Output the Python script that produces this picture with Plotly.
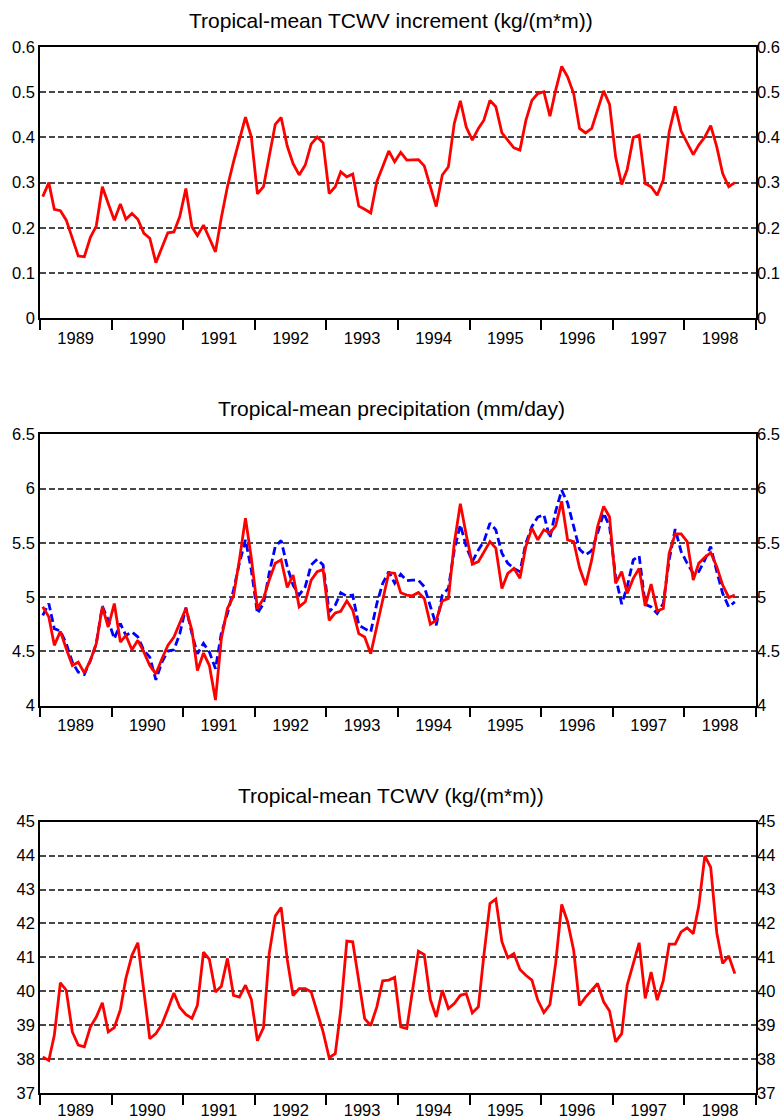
import plotly.graph_objects as go
import pandas as pd

# ---------------- data (monthly, Jan 1989 - Sep 1998) ----------------
start_month = "1989-01-01"
n_months = 117
year_labels = [str(y) for y in range(1989, 1999)]

tcwv_increment = [
    0.269, 0.300, 0.241, 0.238, 0.217, 0.177, 0.138, 0.136, 0.179, 0.204, 0.291, 0.254,
    0.217, 0.253, 0.219, 0.232, 0.219, 0.188, 0.177, 0.123, 0.155, 0.189, 0.191, 0.225,
    0.287, 0.202, 0.183, 0.206, 0.177, 0.147, 0.223, 0.291, 0.346, 0.394, 0.445, 0.401,
    0.275, 0.291, 0.357, 0.429, 0.444, 0.381, 0.342, 0.317, 0.339, 0.385, 0.401, 0.388,
    0.276, 0.291, 0.324, 0.313, 0.319, 0.248, 0.241, 0.233, 0.302, 0.335, 0.370, 0.346,
    0.367, 0.350, 0.350, 0.351, 0.337, 0.291, 0.247, 0.317, 0.335, 0.431, 0.481, 0.423,
    0.394, 0.420, 0.438, 0.482, 0.468, 0.410, 0.394, 0.377, 0.372, 0.437, 0.482, 0.497,
    0.501, 0.447, 0.504, 0.557, 0.534, 0.497, 0.420, 0.410, 0.420, 0.460, 0.503, 0.473,
    0.357, 0.296, 0.329, 0.400, 0.405, 0.298, 0.291, 0.272, 0.306, 0.412, 0.469, 0.414,
    0.388, 0.362, 0.383, 0.401, 0.426, 0.379, 0.320, 0.291, 0.300,
]

precip_red = [
    4.911, 4.818, 4.556, 4.685, 4.525, 4.370, 4.401, 4.302, 4.417, 4.571, 4.911, 4.725,
    4.941, 4.586, 4.648, 4.515, 4.602, 4.494, 4.370, 4.293, 4.432, 4.556, 4.633, 4.756,
    4.895, 4.694, 4.324, 4.485, 4.370, 4.052, 4.620, 4.895, 5.009, 5.343, 5.728, 5.358,
    4.895, 4.988, 5.157, 5.312, 5.343, 5.090, 5.204, 4.911, 4.957, 5.157, 5.235, 5.256,
    4.787, 4.855, 4.870, 4.966, 4.880, 4.664, 4.633, 4.478, 4.725, 4.972, 5.225, 5.219,
    5.040, 5.019, 5.012, 5.043, 4.988, 4.750, 4.787, 4.966, 4.988, 5.497, 5.861, 5.574,
    5.302, 5.327, 5.420, 5.512, 5.451, 5.080, 5.219, 5.265, 5.173, 5.466, 5.636, 5.528,
    5.620, 5.590, 5.657, 5.883, 5.528, 5.512, 5.270, 5.111, 5.343, 5.651, 5.836, 5.738,
    5.127, 5.235, 5.034, 5.173, 5.265, 4.917, 5.120, 4.873, 4.895, 5.404, 5.583, 5.583,
    5.512, 5.157, 5.312, 5.367, 5.410, 5.281, 5.111, 4.997, 5.019,
]

precip_blue = [
    4.833, 4.941, 4.710, 4.688, 4.571, 4.401, 4.309, 4.287, 4.417, 4.571, 4.917, 4.787,
    4.617, 4.756, 4.648, 4.679, 4.633, 4.509, 4.448, 4.238, 4.401, 4.503, 4.515, 4.664,
    4.904, 4.664, 4.478, 4.574, 4.494, 4.340, 4.670, 4.849, 5.065, 5.312, 5.528, 5.250,
    4.849, 4.941, 5.219, 5.466, 5.522, 5.281, 5.111, 5.019, 5.096, 5.296, 5.349, 5.296,
    4.864, 4.926, 5.040, 5.009, 5.019, 4.741, 4.710, 4.679, 4.941, 5.127, 5.235, 5.127,
    5.210, 5.151, 5.157, 5.157, 5.096, 4.911, 4.741, 5.019, 5.080, 5.435, 5.667, 5.466,
    5.327, 5.435, 5.512, 5.682, 5.620, 5.404, 5.312, 5.265, 5.235, 5.497, 5.651, 5.738,
    5.759, 5.543, 5.790, 5.985, 5.867, 5.651, 5.440, 5.389, 5.429, 5.590, 5.775, 5.651,
    5.188, 4.935, 5.096, 5.343, 5.380, 4.935, 4.910, 4.849, 4.941, 5.343, 5.627, 5.420,
    5.312, 5.219, 5.235, 5.343, 5.466, 5.235, 5.034, 4.910, 4.957,
]

tcwv = [
    38.06, 37.96, 38.70, 40.25, 40.03, 38.80, 38.41, 38.36, 38.95, 39.24, 39.66, 38.80,
    38.93, 39.46, 40.38, 41.06, 41.43, 40.03, 38.60, 38.75, 39.03, 39.47, 39.95, 39.52,
    39.32, 39.20, 39.59, 41.15, 40.94, 39.98, 40.15, 40.97, 39.88, 39.83, 40.18, 39.76,
    38.54, 38.93, 41.11, 42.22, 42.47, 40.94, 39.87, 40.08, 40.08, 39.98, 39.41, 38.80,
    38.04, 38.16, 39.44, 41.48, 41.46, 40.23, 39.19, 38.99, 39.54, 40.31, 40.33, 40.41,
    38.95, 38.90, 40.03, 41.18, 41.08, 39.76, 39.24, 40.03, 39.49, 39.64, 39.88, 39.93,
    39.36, 39.54, 41.06, 42.59, 42.72, 41.46, 40.99, 41.11, 40.64, 40.47, 40.33, 39.74,
    39.37, 39.61, 40.82, 42.56, 42.05, 41.21, 39.58, 39.83, 40.03, 40.23, 39.69, 39.42,
    38.51, 38.75, 40.18, 40.82, 41.43, 39.79, 40.57, 39.74, 40.31, 41.39, 41.39, 41.75,
    41.87, 41.70, 42.51, 43.99, 43.65, 41.72, 40.82, 41.04, 40.52,
]

incr_ticks = [0, 0.1, 0.2, 0.3, 0.4, 0.5, 0.6]
incr_ticktext = ["0", "0.1", "0.2", "0.3", "0.4", "0.5", "0.6"]
precip_ticks = [4, 4.5, 5, 5.5, 6, 6.5]
precip_ticktext = ["4", "4.5", "5", "5.5", "6", "6.5"]
tcwv_ticks = [37, 38, 39, 40, 41, 42, 43, 44, 45]
tcwv_ticktext = [str(v) for v in tcwv_ticks]

titles = [
    "Tropical-mean TCWV increment (kg/(m*m))",
    "Tropical-mean precipitation (mm/day)",
    "Tropical-mean TCWV (kg/(m*m))",
]

# ---------------- figure ----------------
dates = pd.date_range(start_month, periods=n_months, freq="MS") + pd.Timedelta(days=14)

FONT = "Liberation Sans, Arial, sans-serif"
W, H = 784, 1120
ML, MR, MT, MB = 40, 28, 47, 27

panels = [
    dict(series=[(tcwv_increment, "#ff0000", "solid")], ticks=incr_ticks,
         ticktext=incr_ticktext, rng=[0, 0.6], top=46.7, bot=318.3, title_y=20, lab=4),
    dict(series=[(precip_blue, "#0000ff", "8px,4px"), (precip_red, "#ff0000", "solid")],
         ticks=precip_ticks, ticktext=precip_ticktext, rng=[4, 6.5],
         top=434.3, bot=705.7, title_y=408, lab=4),
    dict(series=[(tcwv, "#ff0000", "solid")], ticks=tcwv_ticks, ticktext=tcwv_ticktext,
         rng=[37, 45], top=821.7, bot=1093, title_y=795, lab=1),
]

plot_h = H - MT - MB


def fy(Y):
    return (H - MB - Y) / plot_h


fig = go.Figure()
layout = {}
annotations = []
for k, p in enumerate(panels, start=1):
    xa = "x" if k == 1 else f"x{k}"
    ya = "y" if k == 1 else f"y{k}"
    yr = f"y{k + 3}"
    for vals, color, dash in p["series"]:
        fig.add_trace(go.Scatter(x=dates, y=vals, mode="lines",
                                 line=dict(color=color, width=2.8, dash=dash),
                                 xaxis=xa, yaxis=ya, showlegend=False))
    # helper trace for the right-hand axis
    fig.add_trace(go.Scatter(x=dates, y=p["series"][0][0], mode="lines",
                             line=dict(color="rgba(0,0,0,0)", width=0),
                             xaxis=xa, yaxis=yr, showlegend=False, hoverinfo="skip"))
    dom = [max(0, fy(p["bot"])), min(1, fy(p["top"]))]
    tickfont = dict(family=FONT, size=16.5, color="black")
    layout["xaxis" if k == 1 else f"xaxis{k}"] = dict(
        domain=[0, 1], anchor=ya, type="date", automargin=False,
        range=["1989-01-01", "1999-01-01"],
        tickmode="array",
        tickvals=[f"{y}-07-02" for y in year_labels],
        ticktext=year_labels,
        ticks="outside", ticklen=p["lab"], tickcolor="rgba(0,0,0,0)",
        showgrid=False, zeroline=False,
        showline=True, linecolor="black", linewidth=1.5, mirror=True,
        tickfont=tickfont,
        minor=dict(ticks="outside", ticklen=10, tickwidth=1.5, tickcolor="black",
                   tickmode="array",
                   tickvals=[f"{y}-01-01" for y in range(1989, 2000)],
                   showgrid=False),
    )
    layout["yaxis" if k == 1 else f"yaxis{k}"] = dict(
        domain=dom, anchor=xa, range=p["rng"], automargin=False,
        tickmode="array", tickvals=p["ticks"], ticktext=p["ticktext"],
        ticks="", showgrid=True, gridcolor="#484848", griddash="6px,3px", gridwidth=1.5,
        zeroline=False, showline=True, linecolor="black", linewidth=1.5, mirror=True,
        tickfont=tickfont,
    )
    layout[f"yaxis{k + 3}"] = dict(
        overlaying=ya, side="right", anchor=xa, range=p["rng"], automargin=False,
        tickmode="array", tickvals=p["ticks"], ticktext=p["ticktext"],
        ticks="", showgrid=False, zeroline=False, showline=False,
        tickfont=tickfont,
    )
    annotations.append(dict(
        text=titles[k - 1], xref="paper", yref="paper",
        x=(391 - ML) / (W - ML - MR), y=fy(p["title_y"]),
        xanchor="center", yanchor="middle", showarrow=False,
        font=dict(family=FONT, size=21, color="black"),
    ))

fig.update_layout(
    width=W, height=H,
    margin=dict(l=ML, r=MR, t=MT, b=MB, autoexpand=False),
    paper_bgcolor="white", plot_bgcolor="white",
    font=dict(family=FONT, color="black"),
    showlegend=False,
    annotations=annotations,
    **layout,
)

fig.write_html("out.html")
